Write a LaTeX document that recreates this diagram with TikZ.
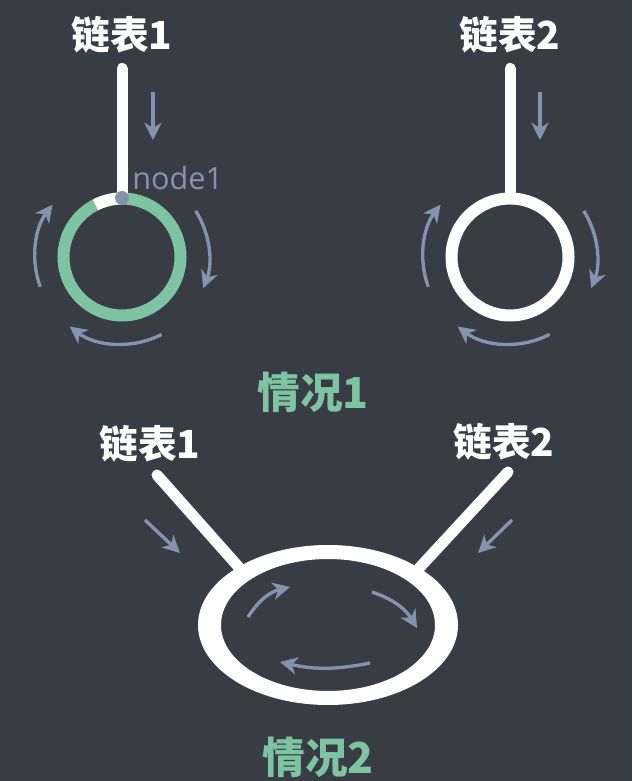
\documentclass[tikz,border=0pt]{standalone}
\usepackage{fontspec}
\usepackage{tikz}
\usetikzlibrary{positioning, calc, arrows.meta, shapes.geometric}
\newfontfamily\cjkfont{Noto Sans CJK SC}
\newfontfamily\opensans{Open Sans}
\definecolor{bgcolor}{HTML}{383C45}
\definecolor{mint}{HTML}{7EC4A2}
\definecolor{steel}{HTML}{8594AE}

\begin{document}
\begin{tikzpicture}
    [x=0.75pt, y=0.75pt,
    labelnode/.style={text=white, inner sep=0pt, font=\cjkfont\bfseries\fontsize{29pt}{30pt}\selectfont},
    casenode/.style={text=mint, inner sep=0pt, font=\cjkfont\bfseries\fontsize{32pt}{34pt}\selectfont},
    ringnode/.style={circle, draw=#1, line width=9pt, minimum size=87.75pt, inner sep=0pt},
    dotnode/.style={circle, fill=steel, minimum size=10.5pt, inner sep=0pt},
    stalkline/.style={white, line width=8.25pt, line cap=round},
    flowarrow/.style={steel, line width=2.5pt, -{Stealth[length=13pt, width=13pt, inset=4pt]}},]

    %Background
    \fill[bgcolor] (0,0) rectangle (632,781);
    \useasboundingbox (0,0) rectangle (632,781);

    %Labels
    \node[labelnode](list1) at (122,746) {链表1};
    \node[labelnode](list2) at (510,746) {链表2};
    \node[casenode](case1) at (313,389) {情况1};
    \node[labelnode](list3) at (150,337) {链表1};
    \node[labelnode](list4) at (504,339) {链表2};
    \node[casenode](case2) at (318,24) {情况2};

    %Nodes
    \node[ringnode=mint](ring1) at (122,524) {};
    \node[ringnode=white](ring2) at (510,524) {};
    \node[ellipse, minimum width=195pt, minimum height=120pt, inner sep=0pt, outer sep=0pt](loop) at (328,156) {};
    \coordinate (top3) at (157,306);
    \coordinate (top4) at (508,309);

    %Lines
    \draw[stalkline]([yshift=-11pt]list1.south)--(ring1.north);
    \draw[stalkline]([yshift=-11pt]list2.south)--(ring2.north);
    \draw[white, line width=9pt](ring1.center) ++(90:58.5) arc[start angle=90, end angle=117, radius=58.5];
    \node[dotnode](node1) at ($(ring1.center)+(0,59)$) {};
    \node(node1label)[anchor=base west, inner sep=0pt, text=steel, font=\opensans\fontsize{23pt}{24pt}\selectfont] at (132,591) {node1};

    \draw[stalkline](top3)--(loop.147);
    \draw[stalkline](top4)--(loop.32);
    \fill[white, even odd rule](loop.center) ellipse [x radius=130, y radius=80]
        (loop.center) ellipse [x radius=107, y radius=66];

    %Arrows
    \draw[flowarrow](153,689)--(153,641);
    \draw[flowarrow](ring1.center) ++(200:87) arc[start angle=200, end angle=143, radius=87];
    \draw[flowarrow](ring1.center) ++(32:87) arc[start angle=32, end angle=-21, radius=87];
    \draw[flowarrow](ring1.center) ++(-63:87) arc[start angle=-63, end angle=-127, radius=87];

    \draw[flowarrow](540,689)--(540,641);
    \draw[flowarrow](ring2.center) ++(200:87) arc[start angle=200, end angle=143, radius=87];
    \draw[flowarrow](ring2.center) ++(32:87) arc[start angle=32, end angle=-21, radius=87];
    \draw[flowarrow](ring2.center) ++(-63:87) arc[start angle=-63, end angle=-127, radius=87];

    \draw[flowarrow](145,261)--(180,228);
    \draw[flowarrow](512,261)--(478,228);
    \draw[flowarrow](248,164) to[bend left=22] (290,194);
    \draw[flowarrow](372,189) to[bend left=20] (417,153);
    \draw[flowarrow](370,118) to[bend left=12] (280,119);

\end{tikzpicture}
\end{document}
